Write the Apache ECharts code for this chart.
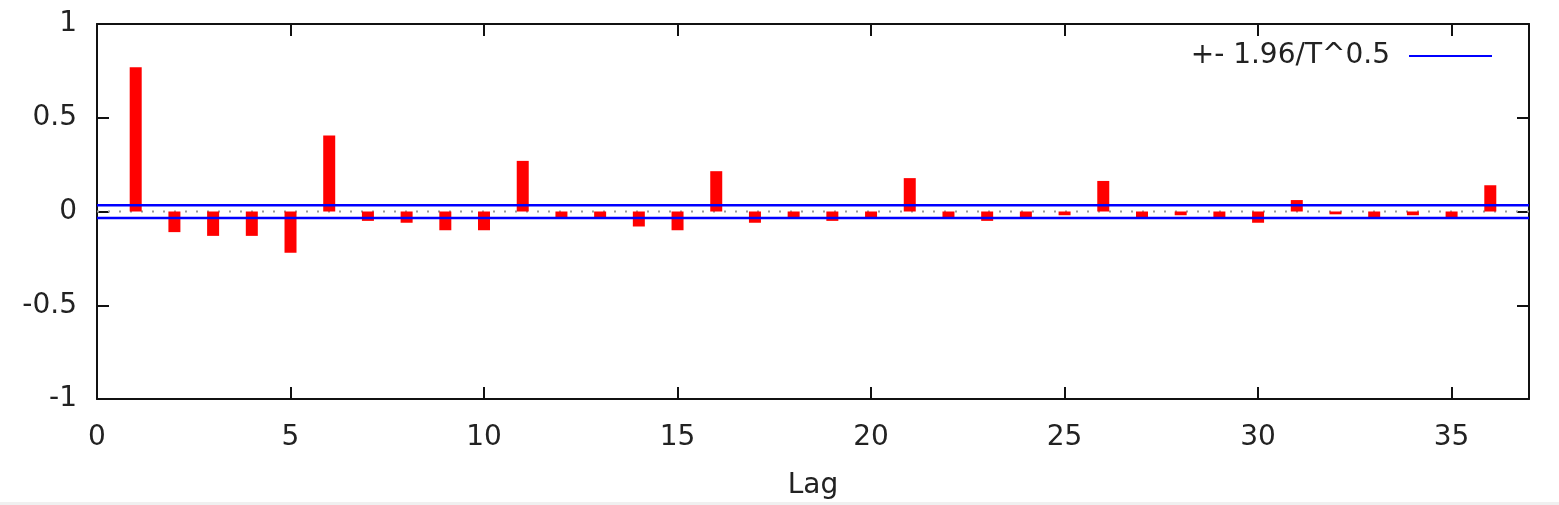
<!DOCTYPE html>
<html>
<head>
<meta charset="utf-8">
<script src="https://cdn.jsdelivr.net/npm/echarts@6/dist/echarts.min.js"></script>
<style>
html,body{margin:0;padding:0;background:#fff;}
#chart{width:1559px;height:505px;}
#strip{position:absolute;left:0;top:502px;width:1559px;height:3px;background:#f0f0f0;}
</style>
</head>
<body>
<div id="chart"></div>
<div id="strip"></div>
<script>
// Data (ACF by lag)
const lags = [1,2,3,4,5,6,7,8,9,10,11,12,13,14,15,16,17,18,19,20,21,22,23,24,25,26,27,28,29,30,31,32,33,34,35,36];
const acf = [0.77,-0.11,-0.13,-0.13,-0.22,0.405,-0.05,-0.06,-0.10,-0.10,0.27,-0.03,-0.03,-0.08,-0.10,0.215,-0.06,-0.03,-0.05,-0.03,0.178,-0.03,-0.05,-0.03,-0.02,0.163,-0.03,-0.02,-0.03,-0.06,0.061,-0.015,-0.03,-0.02,-0.03,0.14];
const band = 0.034; // 1.96/T^0.5
const xRange = [0, 37];
const yTicks = [-1, -0.5, 0, 0.5, 1];
const legendName = '+- 1.96/T^0.5';

const font = 'DejaVu Sans, Verdana, sans-serif';
const txt = '#222';
const fs = 28;
const chart = echarts.init(document.getElementById('chart'));
const axisLine = () => ({show: true, onZero: false, lineStyle: {color: '#111', width: 2}});
const tick = () => ({show: true, inside: true, length: 12, lineStyle: {color: '#111', width: 2}});

chart.setOption({
  animation: false,
  backgroundColor: '#fff',
  grid: {left: 97, right: 30, top: 24, bottom: 104, containLabel: false},
  legend: {
    data: [legendName],
    right: 62, top: 37,
    align: 'right',
    icon: 'rect',
    itemWidth: 83, itemHeight: 2,
    textStyle: {fontFamily: font, fontSize: fs, color: txt, padding: [0, 14, 0, 0]}
  },
  xAxis: [
    {type: 'value', min: xRange[0], max: xRange[1], interval: 5, position: 'bottom',
     axisLine: axisLine(), axisTick: tick(), splitLine: {show: false},
     axisLabel: {fontFamily: font, fontSize: fs, color: txt, margin: 25,
       formatter: v => (v % 5 === 0 ? String(v) : '')},
     name: 'Lag', nameLocation: 'middle', nameGap: 73,
     nameTextStyle: {fontFamily: font, fontSize: fs, color: txt}},
    {type: 'value', min: xRange[0], max: xRange[1], interval: 5, position: 'top',
     axisLine: axisLine(), axisTick: tick(), axisLabel: {show: false}, splitLine: {show: false}}
  ],
  yAxis: [
    {type: 'value', min: yTicks[0], max: yTicks[yTicks.length-1], interval: 0.5, position: 'left',
     axisLine: axisLine(), axisTick: tick(), splitLine: {show: false},
     axisLabel: {fontFamily: font, fontSize: fs, color: txt, margin: 20, padding: [8, 0, 0, 0],
       formatter: v => String(v)}},
    {type: 'value', min: yTicks[0], max: yTicks[yTicks.length-1], interval: 0.5, position: 'right',
     axisLine: axisLine(), axisTick: tick(), axisLabel: {show: false}, splitLine: {show: false}}
  ],
  series: [
    {type: 'line', name: 'zero', data: [[xRange[0], 0], [xRange[1], 0]], symbol: 'none',
     lineStyle: {color: '#999', width: 2, type: [2, 9]}, z: 1, silent: true},
    {type: 'bar', name: 'acf', data: lags.map((l, i) => [l, acf[i]]), barWidth: 12,
     itemStyle: {color: '#ff0000'}, z: 2},
    {type: 'line', name: legendName, data: [[xRange[0], band], [xRange[1], band]], symbol: 'none',
     lineStyle: {color: '#0000ff', width: 2.5}, itemStyle: {color: '#0000ff'}, z: 3},
    {type: 'line', name: legendName, data: [[xRange[0], -band], [xRange[1], -band]], symbol: 'none',
     lineStyle: {color: '#0000ff', width: 2.5}, itemStyle: {color: '#0000ff'}, z: 3}
  ]
});
</script>
</body>
</html>
